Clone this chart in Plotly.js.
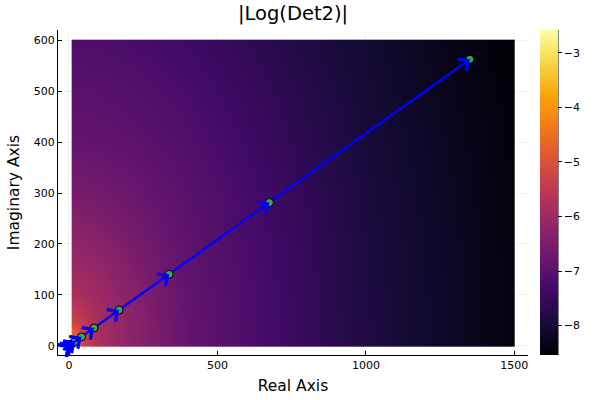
<!DOCTYPE html>
<html>
<head>
<meta charset="utf-8">
<script src="https://cdn.plot.ly/plotly-3.0.1.min.js"></script>
<style>html,body{margin:0;padding:0;background:#fff;}#plot{width:600px;height:400px;}</style>
</head>
<body>
<div id="plot"></div>
<script>
// Heatmap grid
const gridX = [10, 12, 25, 50, 100, 200, 400, 600, 800, 1000, 1250, 1498, 1500];
const gridY = [0, 2, 20, 50, 100, 200, 300, 400, 500, 598, 600];
const gridZ = [
  [-3.45, -3.65, -4.50, -5.25, -5.80, -6.22, -6.85, -7.18, -7.52, -7.82, -8.12, -8.42, -8.42],
  [-3.50, -3.70, -4.52, -5.25, -5.80, -6.22, -6.85, -7.18, -7.52, -7.82, -8.12, -8.42, -8.42],
  [-4.50, -4.56, -4.82, -5.34, -5.84, -6.22, -6.85, -7.18, -7.52, -7.82, -8.12, -8.42, -8.42],
  [-5.30, -5.31, -5.38, -5.56, -5.88, -6.24, -6.86, -7.18, -7.52, -7.82, -8.12, -8.42, -8.42],
  [-5.82, -5.82, -5.84, -5.88, -6.02, -6.30, -6.87, -7.19, -7.53, -7.83, -8.12, -8.42, -8.42],
  [-6.22, -6.22, -6.23, -6.24, -6.30, -6.51, -6.93, -7.24, -7.56, -7.85, -8.14, -8.43, -8.43],
  [-6.57, -6.57, -6.57, -6.58, -6.62, -6.74, -7.00, -7.30, -7.60, -7.88, -8.16, -8.45, -8.45],
  [-6.85, -6.85, -6.85, -6.86, -6.87, -6.93, -7.12, -7.39, -7.66, -7.92, -8.20, -8.47, -8.47],
  [-7.00, -7.00, -7.00, -7.00, -7.02, -7.07, -7.25, -7.49, -7.73, -7.97, -8.24, -8.50, -8.50],
  [-7.18, -7.18, -7.18, -7.18, -7.19, -7.24, -7.39, -7.59, -7.82, -8.01, -8.29, -8.54, -8.54],
  [-7.18, -7.18, -7.18, -7.18, -7.19, -7.24, -7.39, -7.59, -7.82, -8.01, -8.29, -8.54, -8.54]
];
const zMin = -8.54, zMax = -2.58;

// Iteration points
const ptsX = [1.32, 2.64, 5.27, 10.55, 21.09, 42.19, 84.38, 168.75, 337.5, 675, 1350];
const ptsY = [0.55, 1.1, 2.2, 4.4, 8.79, 17.58, 35.16, 70.31, 140.63, 281.25, 562.5];

// Tick labels
const xTicks = [0, 500, 1000, 1500];
const yTicks = [0, 100, 200, 300, 400, 500, 600];
const cbTicks = [-8, -7, -6, -5, -4, -3];

const inferno = [
  [0.0, '#000004'], [0.1, '#160b39'], [0.2, '#420a68'], [0.3, '#6a176e'],
  [0.4, '#932667'], [0.5, '#bc3754'], [0.6, '#dd513a'], [0.7, '#f37819'],
  [0.8, '#fca50a'], [0.9, '#f6d746'], [1.0, '#fcffa4']
];

const FONT = 'DejaVu Sans, sans-serif';
const ARROW = '#0000ff';

const heat = {
  type: 'heatmap', x: gridX, y: gridY, z: gridZ,
  zmin: zMin, zmax: zMax, zsmooth: 'best',
  colorscale: inferno, hoverinfo: 'skip',
  colorbar: {
    x: 1.0255, xanchor: 'left', xpad: 0, y: 0.5, yanchor: 'middle', ypad: 0,
    len: 1, lenmode: 'fraction', thickness: 18, thicknessmode: 'pixels',
    outlinewidth: 0, tickvals: cbTicks, ticks: 'outside', ticklen: 4,
    tickcolor: '#000', tickwidth: 1,
    tickfont: {family: FONT, size: 11, color: '#000'}
  }
};

// arrow shafts: segment from each point to the next
const shaftX = [], shaftY = [];
for (let i = 1; i < ptsX.length; i++) {
  shaftX.push(ptsX[i - 1], ptsX[i], null);
  shaftY.push(ptsY[i - 1], ptsY[i], null);
}
const shafts = {
  type: 'scatter', mode: 'lines', x: shaftX, y: shaftY, hoverinfo: 'skip',
  line: {color: ARROW, width: 2.3}, showlegend: false
};

const pts = {
  type: 'scatter', mode: 'markers', x: ptsX, y: ptsY, hoverinfo: 'skip',
  marker: {color: '#3da44d', size: 8, line: {color: '#000', width: 1}},
  showlegend: false
};

const layout = {
  width: 600, height: 400,
  margin: {l: 58, r: 72, t: 30, b: 45},
  paper_bgcolor: '#fff', plot_bgcolor: '#fff',
  font: {family: FONT, color: '#000'},
  showlegend: false,
  title: {text: '|Log(Det2)|', font: {family: FONT, size: 19.5, color: '#000'},
          x: 0.5, xref: 'paper', y: 0.967, yref: 'container', yanchor: 'middle'},
  xaxis: {
    range: [-37, 1546], tickvals: xTicks, ticks: 'inside', ticklen: 4,
    tickcolor: '#000', showline: true, linecolor: '#000', linewidth: 1,
    showgrid: true, gridcolor: 'rgba(0,0,0,0.1)', gridwidth: 0.5, zeroline: false,
    tickfont: {family: FONT, size: 11, color: '#000'},
    title: {text: 'Real Axis', font: {family: FONT, size: 15.5, color: '#000'}, standoff: 8}
  },
  yaxis: {
    range: [-18, 620], tickvals: yTicks, ticks: 'inside', ticklen: 4,
    tickcolor: '#000', showline: true, linecolor: '#000', linewidth: 1,
    showgrid: true, gridcolor: 'rgba(0,0,0,0.1)', gridwidth: 0.5, zeroline: false,
    tickfont: {family: FONT, size: 11, color: '#000'},
    title: {text: 'Imaginary Axis', font: {family: FONT, size: 15.5, color: '#000'}, standoff: 10}
  },
  shapes: [{type: 'line', xref: 'paper', yref: 'paper', x0: 1.0638, x1: 1.0638, y0: 0, y1: 1,
            line: {color: '#000', width: 1}}]
};

const gd = document.getElementById('plot');
Plotly.newPlot(gd, [heat, shafts, pts], layout, {staticPlot: true, displayModeBar: false}).then(function () {
  // arrowheads: fixed pixel size, oriented along each segment using the axes' own scales
  const xa = gd._fullLayout.xaxis, ya = gd._fullLayout.yaxis;
  const L = 10;
  const anns = [];
  for (let i = 1; i < ptsX.length; i++) {
    const dx = xa.c2p(ptsX[i]) - xa.c2p(ptsX[i - 1]);
    const dy = ya.c2p(ptsY[i]) - ya.c2p(ptsY[i - 1]);
    const n = Math.hypot(dx, dy) || 1;
    anns.push({
      x: ptsX[i], y: ptsY[i], xref: 'x', yref: 'y',
      ax: -L * dx / n, ay: -L * dy / n, axref: 'pixel', ayref: 'pixel',
      text: '', showarrow: true, arrowhead: 4, arrowsize: 1.25, arrowwidth: 2.3,
      arrowcolor: ARROW, standoff: 0, startstandoff: 0
    });
  }
  return Plotly.relayout(gd, {annotations: anns});
});
</script>
</body>
</html>
